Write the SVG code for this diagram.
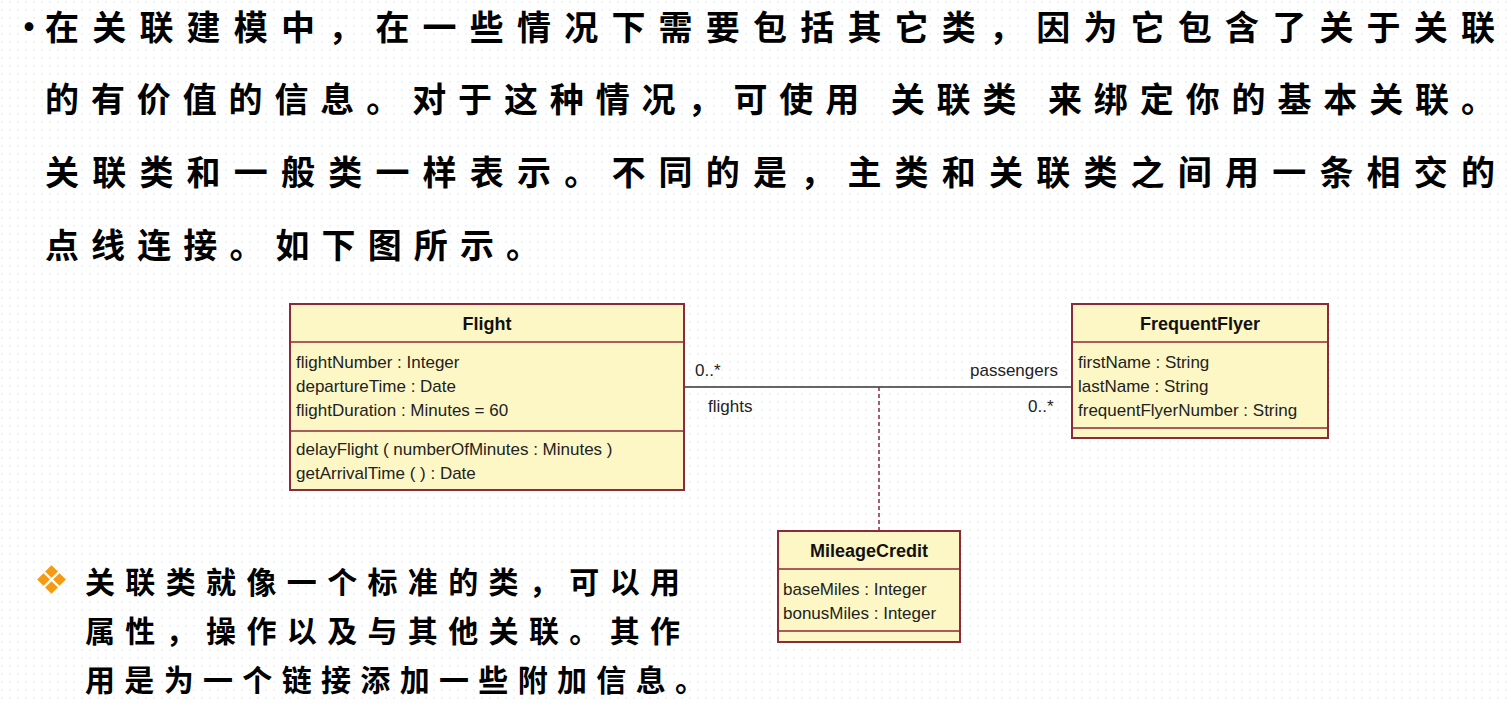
<svg xmlns="http://www.w3.org/2000/svg" width="1508" height="704" viewBox="0 0 1508 704">
<defs>
<pattern id="dots" width="8" height="8" patternUnits="userSpaceOnUse"><rect width="8" height="8" fill="#ffffff"/><circle cx="2" cy="2" r="0.8" fill="#dce8f2"/></pattern>
</defs>
<style>
.cn{font-family:"Noto Sans CJK SC",sans-serif;font-weight:bold;fill:#000}
.big{font-size:34px}
.sm{font-size:30px}
.box{fill:#fdf7c6;stroke:#8b2a3a;stroke-width:2}
.div{stroke:#8b2a3a;stroke-width:1.5}
.t{font-family:"Liberation Sans",Arial,sans-serif;font-size:17px;fill:#222}
.h{font-family:"Liberation Sans",Arial,sans-serif;font-size:18px;font-weight:bold;fill:#111}
</style>
<rect width="1508" height="704" fill="url(#dots)"/>
<g id="paragraph">
<text x="12" y="40" class="cn big">•</text>
<text x="45" y="40" class="cn big" textLength="1450" lengthAdjust="spacing">在关联建模中，在一些情况下需要包括其它类，因为它包含了关于关联</text>
<text x="45" y="112" class="cn big" textLength="1450" lengthAdjust="spacing">的有价值的信息。对于这种情况，可使用 关联类 来绑定你的基本关联。</text>
<text x="45" y="185" class="cn big" textLength="1450" lengthAdjust="spacing">关联类和一般类一样表示。不同的是，主类和关联类之间用一条相交的</text>
<text x="45" y="258" class="cn big" textLength="495" lengthAdjust="spacing">点线连接。如下图所示。</text>
</g>
<g id="connectors">
<line x1="684" y1="387" x2="1072" y2="387" stroke="#333" stroke-width="1.5"/>
<line x1="879" y1="387" x2="879" y2="531" stroke="#8b2a3a" stroke-width="1.5" stroke-dasharray="4,3"/>
<text x="695" y="376" class="t">0..*</text>
<text x="708" y="412" class="t">flights</text>
<text x="970" y="376" class="t">passengers</text>
<text x="1028" y="412" class="t">0..*</text>
</g>
<g id="Flight">
<rect x="290" y="304" width="394" height="186" class="box"/>
<line x1="290" y1="342" x2="684" y2="342" class="div"/>
<line x1="290" y1="431" x2="684" y2="431" class="div"/>
<text x="487" y="330" class="h" text-anchor="middle">Flight</text>
<text x="296" y="368" class="t">flightNumber : Integer</text>
<text x="296" y="392" class="t">departureTime : Date</text>
<text x="296" y="416" class="t">flightDuration : Minutes = 60</text>
<text x="296" y="455" class="t">delayFlight ( numberOfMinutes : Minutes )</text>
<text x="296" y="479" class="t">getArrivalTime (  ) : Date</text>
</g>
<g id="FrequentFlyer">
<rect x="1072" y="304" width="256" height="134" class="box"/>
<line x1="1072" y1="342" x2="1328" y2="342" class="div"/>
<line x1="1072" y1="428" x2="1328" y2="428" class="div"/>
<text x="1200" y="330" class="h" text-anchor="middle">FrequentFlyer</text>
<text x="1078" y="368" class="t">firstName : String</text>
<text x="1078" y="392" class="t">lastName : String</text>
<text x="1078" y="416" class="t">frequentFlyerNumber : String</text>
</g>
<g id="MileageCredit">
<rect x="778" y="531" width="182" height="111" class="box"/>
<line x1="778" y1="569" x2="960" y2="569" class="div"/>
<line x1="778" y1="631" x2="960" y2="631" class="div"/>
<text x="869" y="557" class="h" text-anchor="middle">MileageCredit</text>
<text x="783" y="595" class="t">baseMiles : Integer</text>
<text x="783" y="619" class="t">bonusMiles : Integer</text>
</g>
<g id="note">
<g fill="#f39a12">
<rect x="47" y="567" width="9" height="9" transform="rotate(45 51.5 571.5)"/>
<rect x="47" y="583" width="9" height="9" transform="rotate(45 51.5 587.5)"/>
<rect x="39" y="575" width="9" height="9" transform="rotate(45 43.5 579.5)"/>
<rect x="55" y="575" width="9" height="9" transform="rotate(45 59.5 579.5)"/>
</g>
<text x="85" y="593" class="cn sm" textLength="595" lengthAdjust="spacing">关联类就像一个标准的类，可以用</text>
<text x="85" y="642" class="cn sm" textLength="595" lengthAdjust="spacing">属性，操作以及与其他关联。其作</text>
<text x="85" y="691" class="cn sm" textLength="620" lengthAdjust="spacing">用是为一个链接添加一些附加信息。</text>
</g>
</svg>
